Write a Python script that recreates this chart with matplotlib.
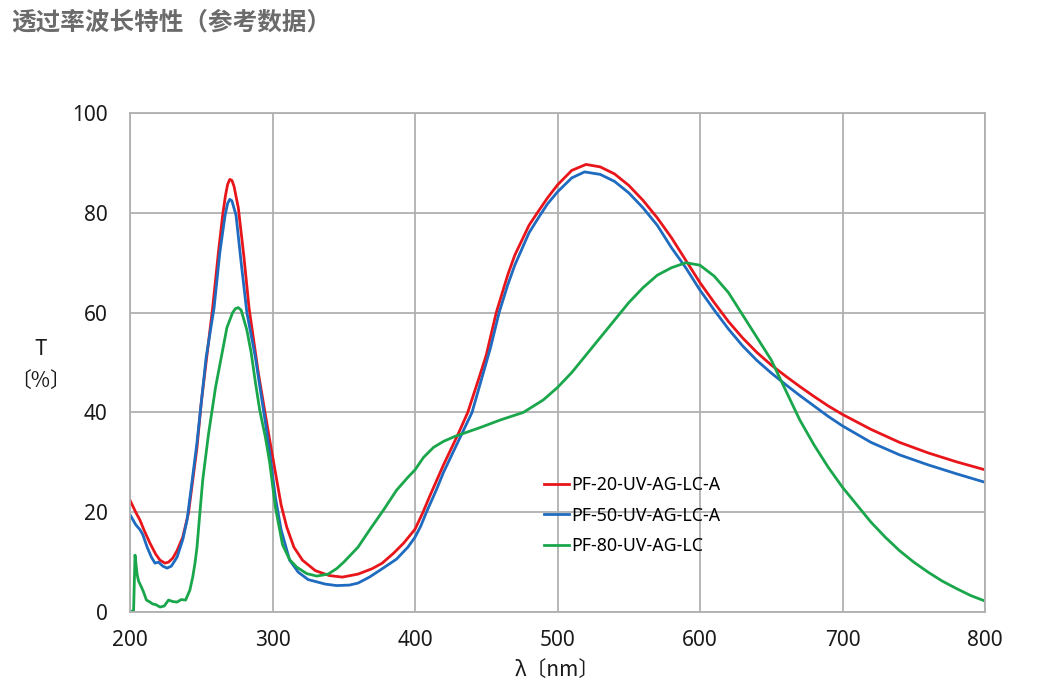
import matplotlib
matplotlib.use("Agg")
import matplotlib.pyplot as plt

# PF-20-UV-AG-LC-A
wl_red = [200, 204, 207, 210, 214, 218, 221, 224.5, 227, 230, 233, 237, 241, 244, 247,
          250, 254, 258, 262, 265, 267, 268.5, 270, 271.5, 273, 276, 280, 283.5, 287, 290,
          295, 298, 302, 306, 310, 315, 321, 330, 340, 349, 360, 370, 377, 385, 392, 400,
          405.6, 410, 420, 430, 437, 445, 450, 457, 465, 470, 480, 487, 493, 500, 510, 520,
          530, 540, 550, 560, 570, 580, 590, 600, 610, 620, 630, 640, 650, 660, 670,
          680, 690, 700, 720, 740, 760, 780, 800]
t_red = [22.4, 20, 18.4, 16.3, 13.8, 11.6, 10.4, 9.8, 10, 10.8, 12.3, 15, 19.8, 26.4, 33,
         42, 51.5, 61, 72, 79.5, 83.5, 85.7, 86.7, 86.5, 85.3, 81, 71, 61, 54, 48,
         39.5, 34.5, 28, 21.5, 17, 13, 10.4, 8.3, 7.3, 7, 7.6, 8.7, 9.8, 11.8, 13.8, 16.6,
         20, 23, 29.5, 35.5, 40, 47, 51.5, 60, 67.5, 71.5, 77.5, 80.5, 83, 85.6, 88.5, 89.7,
         89.2, 87.8, 85.5, 82.5, 79, 75, 70.5, 66, 62, 58.2, 54.9, 52, 49.5, 47.3, 45.2,
         43.2, 41.3, 39.6, 36.6, 34, 31.9, 30.1, 28.5]

# PF-50-UV-AG-LC-A
wl_blue = [200, 204, 207, 209, 212, 215, 217.5, 220, 223, 226, 229, 233, 237, 240, 243,
           247, 250, 253.4, 259, 263, 266.7, 268.5, 270, 271.5, 274.4, 278, 282, 285, 288, 292,
           295, 298, 302, 306, 312, 318, 325, 337, 345, 354, 360, 368, 375, 387, 395, 400,
           404, 408, 415, 420, 430, 440, 448, 453, 459, 465, 470, 480, 487.7, 493, 500,
           510, 519, 530, 540, 550, 560, 570, 580, 590, 600, 610, 620, 630, 640, 650,
           660, 670, 680, 690, 700, 720, 740, 760, 780, 800]
t_blue = [19.5, 17.5, 16.5, 15.5, 13, 11, 9.8, 10, 9.2, 8.8, 9.2, 11, 14.5, 18.4, 25,
          34, 42, 51, 61, 72, 79.5, 81.9, 82.7, 82.4, 79.5, 70, 60, 55.5, 51, 43.5,
          38, 32, 23, 16.5, 10.4, 8, 6.5, 5.6, 5.3, 5.4, 5.8, 7, 8.3, 10.6, 13, 15,
          17.2, 20, 24.5, 28, 34, 40, 48, 53, 60, 65.5, 69.5, 76, 79.5, 81.8, 84.2,
          87, 88.2, 87.7, 86.3, 84, 81, 77.5, 73, 69, 64.5, 60.5, 56.7, 53.3, 50.4, 47.9,
          45.6, 43.4, 41.3, 39.2, 37.3, 34, 31.5, 29.5, 27.7, 26]

# PF-80-UV-AG-LC
wl_green = [200, 202.5, 203.5, 205, 206, 208, 209.5, 211.5, 214, 216, 218, 221, 224, 227,
            230, 233, 236, 239, 242, 244, 245.6, 247, 249, 251, 255, 260, 265, 268, 272,
            274, 276, 278, 282, 285, 288, 291, 295, 298, 302, 307, 312, 317, 324, 331, 339,
            345, 350, 360, 368, 378, 387, 395, 400, 406, 413, 420, 428, 436, 446, 460,
            476, 490, 500, 510, 520, 530, 540, 550, 560, 570, 580, 590, 600, 610, 620,
            630, 640, 650, 660, 670, 680, 690, 700, 710, 720, 730, 740, 750, 760, 770,
            780, 790, 800]
t_green = [0, 0.3, 11.4, 7.5, 6.2, 5, 4, 2.4, 2, 1.6, 1.5, 1, 1.2, 2.4,
           2.1, 2, 2.5, 2.4, 4.4, 7, 9.8, 13, 19.8, 26.4, 35.5, 45, 52.5, 57, 60,
           60.8, 61, 60.5, 56.5, 52, 46, 40.5, 35, 30, 21, 13.5, 10.5, 9, 7.7, 7.2, 7.6,
           8.7, 10, 13, 16.4, 20.5, 24.4, 27, 28.5, 31, 33, 34.2, 35.2, 36, 37, 38.5,
           40, 42.5, 45, 48, 51.5, 55, 58.5, 62, 65, 67.5, 69, 70, 69.5, 67.3, 64,
           59.5, 55, 50.5, 44.5, 38.5, 33.5, 29, 25, 21.5, 18, 15, 12.3, 10, 8, 6.2,
           4.7, 3.3, 2.2]

labels = ["PF-20-UV-AG-LC-A", "PF-50-UV-AG-LC-A", "PF-80-UV-AG-LC"]
colors = ["#e8161b", "#1f6bc0", "#1aa64b"]

x_ticks = [200, 300, 400, 500, 600, 700, 800]
y_ticks = [0, 20, 40, 60, 80, 100]

plt.rcParams['font.family'] = ['Noto Sans', 'Noto Sans CJK SC', 'DejaVu Sans']

fig = plt.figure(figsize=(10.58, 6.9), dpi=100, facecolor='w')
ax = fig.add_axes([0.1229, 0.1130, 0.8081, 0.7232])

ax.plot(wl_red, t_red, color=colors[0], lw=2.0, label=labels[0])
ax.plot(wl_blue, t_blue, color=colors[1], lw=2.0, label=labels[1])
ax.plot(wl_green, t_green, color=colors[2], lw=2.0, label=labels[2])

ax.set_xlim(200, 800)
ax.set_ylim(0, 100)
ax.set_xticks(x_ticks)
ax.set_yticks(y_ticks)
ax.grid(True, color='#b0b0b0', lw=1.3)
ax.set_axisbelow(True)
for sp in ax.spines.values():
    sp.set_color('#b0b0b0')
    sp.set_linewidth(1.3)
ax.tick_params(length=0, labelsize=15, colors='#1a1a1a')
ax.tick_params(axis='y', pad=16)
ax.tick_params(axis='x', pad=13)

ax.set_xlabel("λ〔nm〕", fontsize=15, color='#1a1a1a', labelpad=6,
              family=['Noto Sans CJK SC', 'DejaVu Sans'])
ax.set_ylabel("T\n〔%〕", fontsize=15, color='#1a1a1a', rotation=0,
              family=['Noto Sans CJK SC', 'DejaVu Sans'], linespacing=1.55,
              va='center', ha='center')
ax.yaxis.set_label_coords(-0.105, 0.495)

leg = ax.legend(loc='upper left', bbox_to_anchor=(0.465, 0.305), frameon=False,
                fontsize=12.8, handlelength=1.45, handletextpad=0.1,
                labelspacing=0.72)

fig.text(0.011, 0.968, "透过率波长特性（参考数据）", fontsize=17.7, color='#6b6b6b',
         family=['Noto Sans CJK SC', 'DejaVu Sans'], fontweight='bold', va='center')

fig.savefig("out.png", dpi=100, facecolor='w')
